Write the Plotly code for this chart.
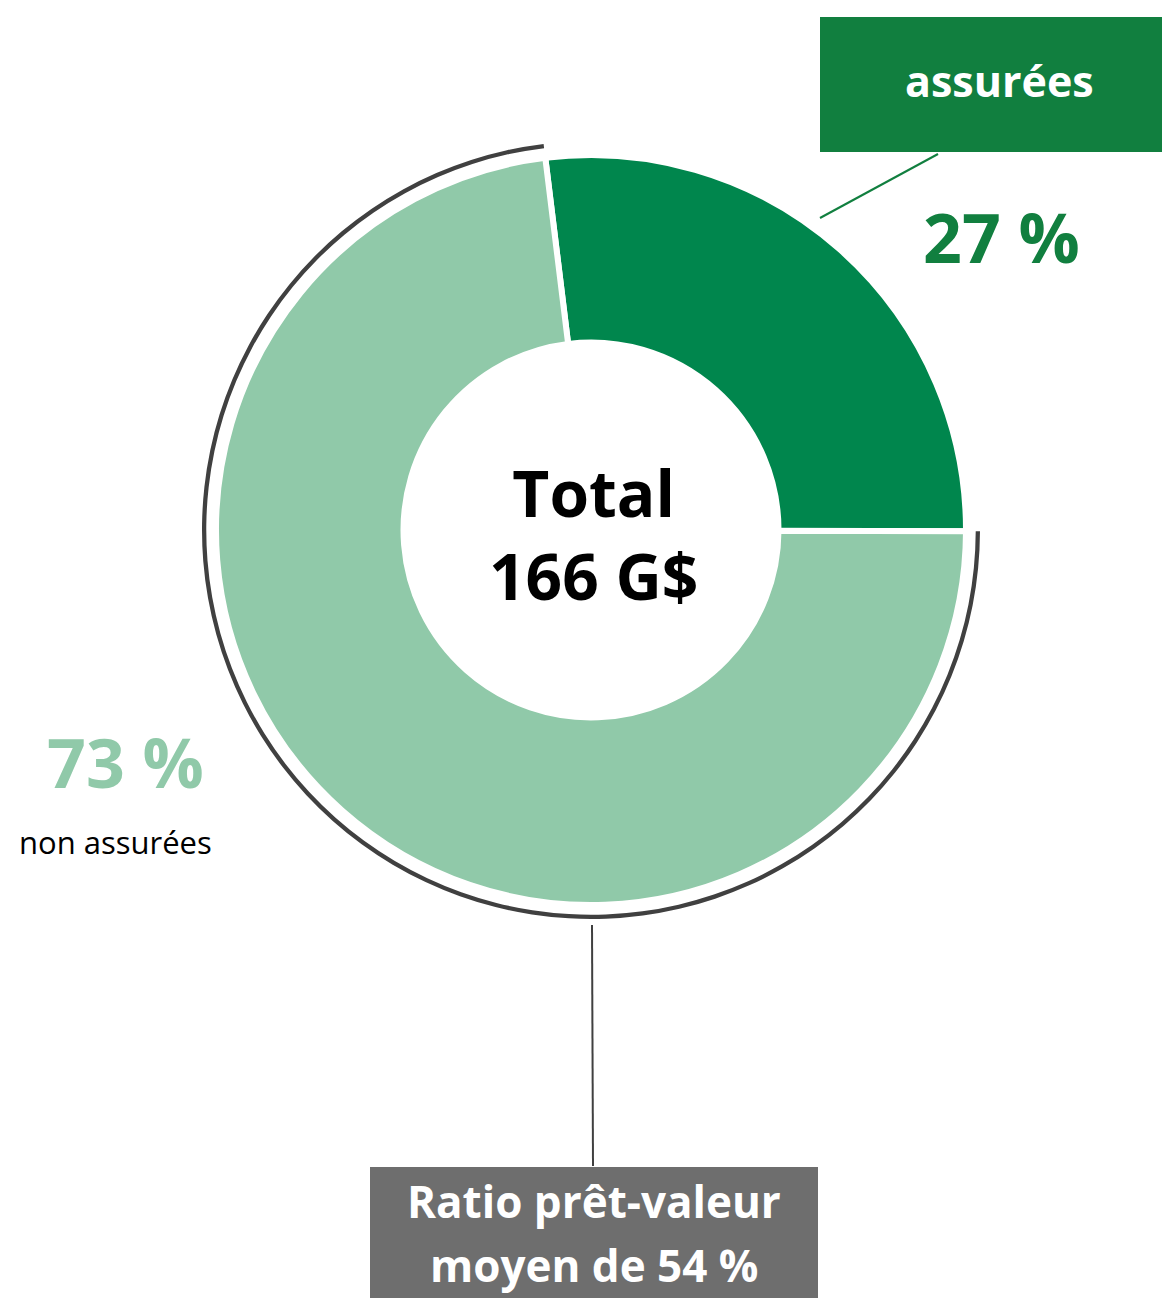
import plotly.graph_objects as go

# data
categories = ['assurées', 'non assurées']
shares = [27, 73]
total_gdollars = 166
ltv_average = 54

W, H = 1170, 1298
OFF = 8  # page body margin
FONT = 'Open Sans'
dark_green = '#00864D'
box_green = '#117F3F'
light_green = '#90C9A9'
arc_grey = '#404040'
box_grey = '#6E6E6E'


def px(x):
	return (x - OFF) / W


def py(y):
	# pixel from top -> paper from bottom
	return 1 - (y - OFF) / H


def domain(cx, cy, r):
	return {'x': [px(cx - r), px(cx + r)], 'y': [py(cy + r), py(cy - r)]}


cx, cy = 591, 530

fig = go.Figure()
# main donut
fig.add_trace(go.Pie(
	labels=categories,
	values=shares,
	hole=0.5,
	sort=False,
	direction='clockwise',
	rotation=-7,
	marker={'colors': [dark_green, light_green], 'line': {'color': 'white', 'width': 6}},
	textinfo='none',
	hoverinfo='label+percent',
	showlegend=False,
	domain=domain(cx, cy, 375)))
# thin outer arc around the non-insured share
fig.add_trace(go.Pie(
	labels=categories,
	values=shares,
	hole=0.989,
	sort=False,
	direction='clockwise',
	rotation=-7,
	marker={'colors': ['rgba(0,0,0,0)', arc_grey], 'line': {'width': 0}},
	textinfo='none',
	hoverinfo='skip',
	showlegend=False,
	domain=domain(cx, cy, 389)))

shapes = [
	# label boxes
	dict(type='rect', xref='paper', yref='paper', x0=px(820), x1=px(1185), y0=py(152), y1=py(17),
		fillcolor=box_green, line={'width': 0}, layer='below'),
	dict(type='rect', xref='paper', yref='paper', x0=px(370), x1=px(818), y0=py(1310), y1=py(1167),
		fillcolor=box_grey, line={'width': 0}, layer='below'),
	# leader lines
	dict(type='line', xref='paper', yref='paper', x0=px(820), x1=px(938), y0=py(218), y1=py(154),
		line={'color': box_green, 'width': 2}),
	dict(type='line', xref='paper', yref='paper', x0=px(592), x1=px(593), y0=py(925), y1=py(1166),
		line={'color': arc_grey, 'width': 2}),
]

annotations = [
	dict(text=f'<b>Total<br>{total_gdollars} G$</b>', x=px(593), y=py(534),
		font={'size': 64, 'color': 'black', 'family': FONT}),
	dict(text=f'<b>{categories[0]}</b>', x=px(999), y=py(81),
		font={'size': 43, 'color': 'white', 'family': FONT}),
	dict(text=f'<b>{shares[0]} %</b>', x=px(1001), y=py(236),
		font={'size': 68, 'color': box_green, 'family': FONT}),
	dict(text=f'<b>{shares[1]} %</b>', x=px(125), y=py(761),
		font={'size': 68, 'color': light_green, 'family': FONT}),
	dict(text=categories[1], x=px(115), y=py(842),
		font={'size': 31, 'color': 'black', 'family': FONT}),
	dict(text='<b>Ratio prêt-valeur</b>', x=px(594), y=py(1201),
		font={'size': 44, 'color': 'white', 'family': FONT}),
	dict(text=f'<b>moyen de {ltv_average} %</b>', x=px(594), y=py(1265),
		font={'size': 44, 'color': 'white', 'family': FONT}),
]
for a in annotations:
	a.update(xref='paper', yref='paper', xanchor='center', yanchor='middle', showarrow=False)

fig.update_layout(
	width=W, height=H,
	margin={'l': 0, 'r': 0, 't': 0, 'b': 0},
	paper_bgcolor='white',
	plot_bgcolor='white',
	shapes=shapes,
	annotations=annotations,
	font={'family': FONT})

fig.write_html('out.html')
